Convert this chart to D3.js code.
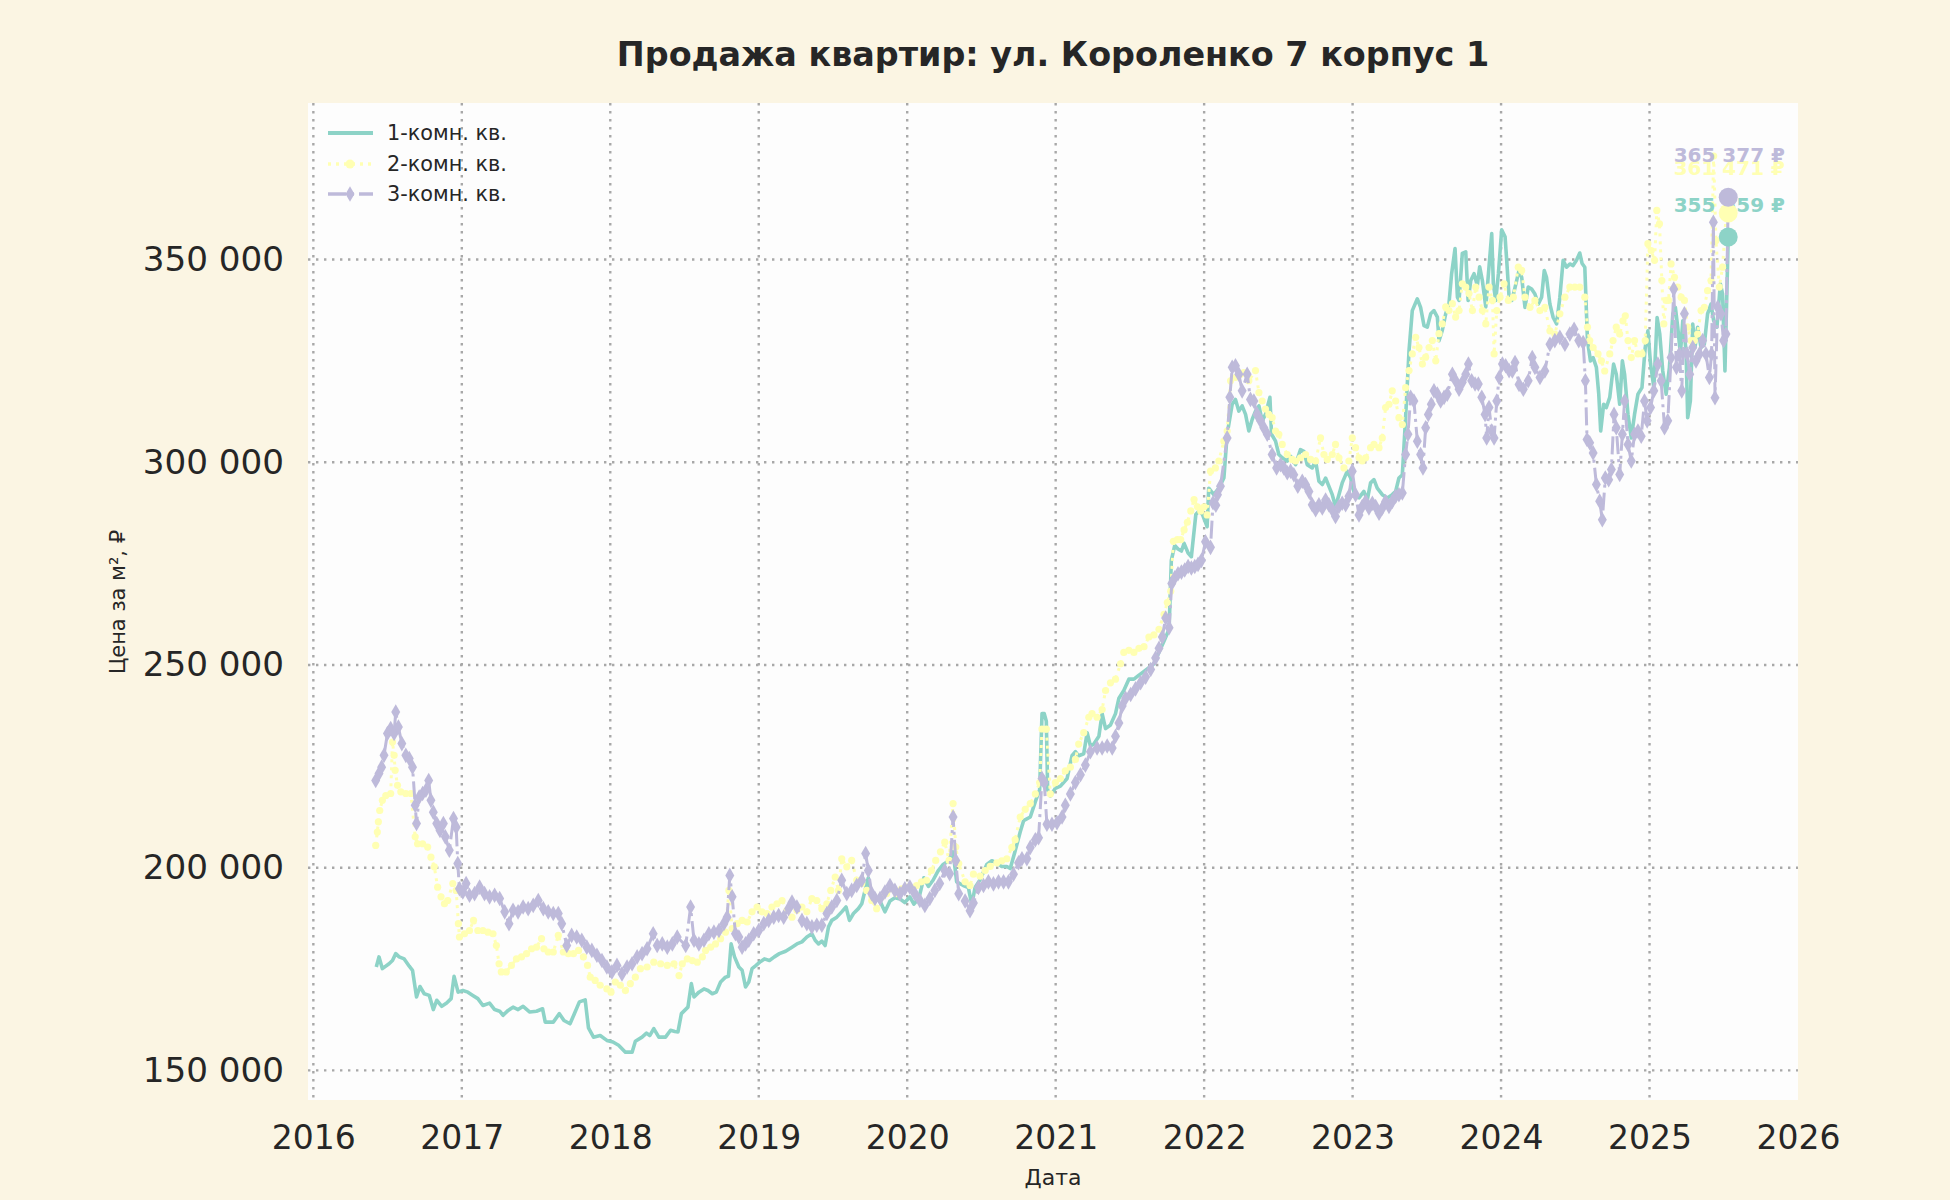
<!DOCTYPE html>
<html><head><meta charset="utf-8">
<script src="https://cdn.jsdelivr.net/npm/d3@7/dist/d3.min.js"></script>
<style>body{margin:0;background:#fbf5e3}svg{display:block}</style>
</head><body><svg id="chart" width="1950" height="1200"></svg>
<script>
const chartTitle = "Продажа квартир: ул. Короленко 7 корпус 1";
const xLabel = "Дата";
const yLabel = "Цена за м², ₽";
const seriesNames = ["1-комн. кв.", "2-комн. кв.", "3-комн. кв."];
const seriesColors = ["#8dd3c7", "#ffffb3", "#bebada"];
const xTicks = [2016, 2017, 2018, 2019, 2020, 2021, 2022, 2023, 2024, 2025, 2026];
const yTicks = [150000, 200000, 250000, 300000, 350000];

// [decimal year, price per m² in thousand ₽]
const room1 = [[2016.424,175.5],[2016.442,178.0],[2016.465,175.1],[2016.51,176.3],[2016.533,177.1],[2016.555,178.8],[2016.578,178.0],[2016.612,177.5],[2016.646,175.7],[2016.668,174.7],[2016.695,168.1],[2016.718,170.7],[2016.747,168.9],[2016.781,168.5],[2016.808,165.0],[2016.831,167.3],[2016.865,165.8],[2016.898,166.6],[2016.928,167.7],[2016.948,173.2],[2016.975,169.3],[2017.007,169.7],[2017.041,169.3],[2017.074,168.5],[2017.108,167.7],[2017.142,166.0],[2017.187,166.6],[2017.221,165.0],[2017.255,164.6],[2017.278,163.6],[2017.312,164.8],[2017.345,165.6],[2017.379,165.0],[2017.413,165.8],[2017.458,164.4],[2017.503,164.6],[2017.544,165.2],[2017.562,161.9],[2017.616,161.9],[2017.657,164.0],[2017.688,162.3],[2017.729,161.5],[2017.756,163.8],[2017.792,166.9],[2017.831,167.4],[2017.853,160.5],[2017.887,158.2],[2017.932,158.6],[2017.977,157.4],[2018.018,157.0],[2018.056,156.2],[2018.102,154.5],[2018.147,154.5],[2018.169,157.2],[2018.214,158.2],[2018.244,159.2],[2018.266,158.6],[2018.293,160.3],[2018.327,158.2],[2018.372,158.2],[2018.406,159.9],[2018.435,159.6],[2018.456,159.5],[2018.479,164.0],[2018.501,164.8],[2018.523,165.6],[2018.546,171.4],[2018.564,168.1],[2018.597,169.3],[2018.631,170.1],[2018.658,169.7],[2018.687,168.9],[2018.714,169.3],[2018.743,171.8],[2018.776,173.0],[2018.796,173.2],[2018.814,181.2],[2018.837,178.0],[2018.866,175.5],[2018.888,174.7],[2018.911,170.6],[2018.933,171.8],[2018.955,175.1],[2018.982,175.9],[2019.007,176.7],[2019.038,177.5],[2019.072,177.1],[2019.105,178.0],[2019.139,178.8],[2019.181,179.4],[2019.224,180.4],[2019.257,181.2],[2019.291,181.7],[2019.324,182.9],[2019.358,183.7],[2019.38,182.1],[2019.403,181.2],[2019.425,181.9],[2019.447,180.8],[2019.47,185.4],[2019.492,187.0],[2019.526,187.8],[2019.559,189.1],[2019.588,190.3],[2019.611,187.0],[2019.638,188.7],[2019.671,189.9],[2019.694,191.1],[2019.716,194.4],[2019.738,197.5],[2019.756,193.6],[2019.783,192.4],[2019.817,191.8],[2019.85,189.1],[2019.884,191.8],[2019.917,192.6],[2019.951,192.3],[2019.984,191.4],[2020.018,192.8],[2020.045,191.0],[2020.078,192.4],[2020.112,197.5],[2020.143,195.4],[2020.174,196.9],[2020.208,199.2],[2020.242,200.8],[2020.275,201.6],[2020.309,203.9],[2020.333,196.5],[2020.378,195.6],[2020.412,195.1],[2020.435,190.9],[2020.457,195.1],[2020.491,197.0],[2020.536,200.8],[2020.57,201.7],[2020.604,201.2],[2020.637,200.3],[2020.671,200.3],[2020.694,199.8],[2020.727,204.1],[2020.761,208.8],[2020.784,211.6],[2020.829,212.5],[2020.863,216.3],[2020.892,219.2],[2020.908,238.0],[2020.923,238.0],[2020.937,236.1],[2020.946,219.2],[2020.964,217.7],[2020.998,219.6],[2021.032,220.1],[2021.077,222.0],[2021.11,227.6],[2021.133,228.6],[2021.155,227.6],[2021.189,228.1],[2021.212,233.3],[2021.234,230.0],[2021.257,230.5],[2021.291,232.4],[2021.313,238.0],[2021.336,234.3],[2021.369,235.2],[2021.403,238.0],[2021.426,241.8],[2021.459,243.7],[2021.493,246.5],[2021.527,246.5],[2021.561,247.5],[2021.595,248.4],[2021.628,249.3],[2021.662,250.3],[2021.696,253.1],[2021.73,255.9],[2021.764,258.8],[2021.779,275.8],[2021.802,279.5],[2021.824,278.6],[2021.847,278.1],[2021.865,280.0],[2021.892,277.6],[2021.914,276.7],[2021.944,287.1],[2021.966,288.0],[2021.989,287.1],[2022.02,284.1],[2022.031,293.6],[2022.065,292.0],[2022.099,293.6],[2022.133,296.1],[2022.155,306.9],[2022.189,314.3],[2022.211,315.5],[2022.234,312.6],[2022.256,313.9],[2022.279,311.8],[2022.301,307.7],[2022.324,310.6],[2022.346,312.6],[2022.369,313.9],[2022.391,310.2],[2022.413,311.8],[2022.443,316.0],[2022.454,306.9],[2022.481,305.2],[2022.503,301.9],[2022.526,301.1],[2022.56,300.3],[2022.582,301.5],[2022.616,299.4],[2022.649,303.1],[2022.672,302.7],[2022.694,299.4],[2022.728,298.6],[2022.751,300.3],[2022.773,295.3],[2022.796,294.5],[2022.818,296.1],[2022.84,294.1],[2022.863,292.0],[2022.885,289.1],[2022.908,292.0],[2022.93,294.9],[2022.964,297.8],[2022.987,296.1],[2023.013,292.0],[2023.043,291.2],[2023.076,292.8],[2023.099,290.7],[2023.121,294.9],[2023.144,295.7],[2023.166,293.6],[2023.2,292.0],[2023.234,291.2],[2023.267,292.0],[2023.29,292.8],[2023.312,296.1],[2023.335,296.9],[2023.357,311.0],[2023.38,327.5],[2023.402,337.4],[2023.436,340.3],[2023.458,338.2],[2023.481,333.7],[2023.503,333.3],[2023.526,336.6],[2023.548,337.4],[2023.571,335.8],[2023.582,330.0],[2023.604,332.5],[2023.627,336.6],[2023.649,339.1],[2023.667,346.5],[2023.69,352.7],[2023.706,340.7],[2023.717,339.9],[2023.739,351.5],[2023.762,351.9],[2023.778,339.9],[2023.796,344.8],[2023.818,346.5],[2023.84,343.6],[2023.856,348.2],[2023.874,344.8],[2023.897,338.3],[2023.915,346.5],[2023.937,356.4],[2023.948,344.0],[2023.964,339.9],[2023.982,346.5],[2024.004,357.3],[2024.027,355.6],[2024.038,349.8],[2024.054,340.7],[2024.072,339.9],[2024.089,342.3],[2024.105,344.8],[2024.121,347.3],[2024.139,345.6],[2024.161,338.2],[2024.183,343.2],[2024.206,342.7],[2024.228,341.5],[2024.251,339.0],[2024.273,340.7],[2024.291,347.3],[2024.306,345.6],[2024.329,339.0],[2024.351,335.7],[2024.374,334.1],[2024.396,340.7],[2024.418,349.8],[2024.441,348.1],[2024.463,348.9],[2024.485,348.5],[2024.508,349.8],[2024.53,351.6],[2024.546,349.0],[2024.564,348.1],[2024.582,330.0],[2024.602,325.0],[2024.62,325.8],[2024.642,323.4],[2024.658,316.8],[2024.671,307.7],[2024.691,314.3],[2024.709,313.5],[2024.732,316.0],[2024.758,324.2],[2024.776,321.7],[2024.799,314.3],[2024.817,325.0],[2024.832,321.7],[2024.855,311.8],[2024.877,306.0],[2024.899,311.8],[2024.922,316.8],[2024.949,318.4],[2024.971,328.3],[2024.989,332.4],[2025.007,324.2],[2025.029,318.4],[2025.051,335.7],[2025.069,331.6],[2025.089,322.5],[2025.112,316.8],[2025.134,323.4],[2025.157,336.6],[2025.174,338.2],[2025.19,333.3],[2025.208,326.7],[2025.224,334.9],[2025.246,327.5],[2025.257,311.0],[2025.275,315.1],[2025.291,334.1],[2025.306,328.3],[2025.324,333.3],[2025.347,328.3],[2025.369,329.1],[2025.391,336.6],[2025.414,339.0],[2025.432,334.9],[2025.454,333.3],[2025.477,344.0],[2025.492,341.5],[2025.508,322.5],[2025.53,355.559]];

const room2 = [[2016.42,205.5],[2016.431,208.8],[2016.438,211.3],[2016.447,214.1],[2016.465,216.6],[2016.488,217.8],[2016.521,218.3],[2016.533,231.0],[2016.544,227.7],[2016.551,224.0],[2016.567,220.3],[2016.589,218.7],[2016.623,218.3],[2016.657,218.3],[2016.686,207.6],[2016.702,205.9],[2016.736,205.9],[2016.77,205.1],[2016.792,202.6],[2016.815,200.2],[2016.837,195.2],[2016.86,192.8],[2016.883,191.1],[2016.905,191.9],[2016.939,196.1],[2016.962,194.4],[2016.977,186.2],[2016.984,182.9],[2017.018,183.7],[2017.052,184.5],[2017.079,187.0],[2017.108,184.5],[2017.142,184.5],[2017.176,184.1],[2017.21,183.7],[2017.233,180.8],[2017.251,176.3],[2017.266,174.3],[2017.3,174.3],[2017.334,175.9],[2017.368,177.5],[2017.402,178.0],[2017.436,178.8],[2017.47,180.0],[2017.503,180.4],[2017.537,182.5],[2017.553,180.0],[2017.582,179.2],[2017.616,179.2],[2017.65,183.3],[2017.684,179.2],[2017.718,178.8],[2017.752,178.8],[2017.786,179.6],[2017.819,178.0],[2017.847,175.9],[2017.865,173.0],[2017.898,172.2],[2017.932,171.0],[2017.977,170.1],[2018.005,169.3],[2018.034,171.8],[2018.068,171.0],[2018.102,169.7],[2018.135,171.4],[2018.169,173.0],[2018.203,175.1],[2018.248,175.5],[2018.293,176.7],[2018.339,176.3],[2018.384,175.9],[2018.429,176.3],[2018.463,173.4],[2018.485,176.3],[2018.519,177.5],[2018.553,177.1],[2018.586,176.7],[2018.62,178.0],[2018.642,179.6],[2018.676,180.4],[2018.709,181.2],[2018.743,182.5],[2018.776,184.1],[2018.799,194.4],[2018.821,185.0],[2018.855,186.2],[2018.888,187.0],[2018.922,186.6],[2018.955,189.1],[2018.989,190.3],[2019.022,189.1],[2019.056,188.7],[2019.089,190.3],[2019.123,191.1],[2019.157,191.9],[2019.19,189.5],[2019.224,187.8],[2019.257,189.5],[2019.291,190.3],[2019.324,189.1],[2019.358,192.4],[2019.391,191.9],[2019.425,189.9],[2019.459,191.1],[2019.485,194.4],[2019.515,197.7],[2019.537,194.4],[2019.559,202.2],[2019.593,200.2],[2019.626,201.8],[2019.66,196.9],[2019.694,196.1],[2019.727,194.4],[2019.761,191.9],[2019.794,189.9],[2019.828,192.8],[2019.861,193.6],[2019.895,194.8],[2019.928,193.6],[2019.962,194.8],[2019.996,195.2],[2020.029,194.8],[2020.063,195.6],[2020.096,196.5],[2020.13,196.9],[2020.163,199.3],[2020.192,201.8],[2020.224,203.9],[2020.253,206.3],[2020.282,201.8],[2020.309,215.8],[2020.327,205.1],[2020.347,201.0],[2020.39,196.5],[2020.423,195.6],[2020.446,198.4],[2020.491,197.9],[2020.525,199.3],[2020.559,200.3],[2020.604,201.2],[2020.637,201.7],[2020.671,202.2],[2020.705,205.0],[2020.727,206.9],[2020.761,212.5],[2020.795,214.4],[2020.829,215.8],[2020.863,218.2],[2020.892,221.0],[2020.908,234.2],[2020.937,234.2],[2020.964,218.2],[2020.998,221.0],[2021.032,222.0],[2021.065,223.9],[2021.099,224.8],[2021.133,226.7],[2021.155,230.5],[2021.189,233.3],[2021.223,237.1],[2021.245,238.0],[2021.279,237.1],[2021.313,239.0],[2021.336,243.7],[2021.369,245.6],[2021.403,246.5],[2021.437,250.3],[2021.459,253.1],[2021.493,253.6],[2021.527,253.1],[2021.561,254.1],[2021.595,254.5],[2021.628,256.9],[2021.662,257.4],[2021.696,258.8],[2021.73,262.5],[2021.752,265.4],[2021.775,268.2],[2021.793,280.5],[2021.82,280.9],[2021.842,280.9],[2021.865,283.3],[2021.887,285.2],[2021.91,288.0],[2021.932,290.8],[2021.955,289.0],[2021.977,288.0],[2022.0,289.0],[2022.02,287.0],[2022.043,297.8],[2022.076,298.6],[2022.099,300.3],[2022.133,305.2],[2022.155,307.7],[2022.178,320.1],[2022.211,320.9],[2022.245,321.7],[2022.267,322.1],[2022.301,320.1],[2022.346,322.6],[2022.369,317.2],[2022.391,315.1],[2022.413,313.1],[2022.436,311.8],[2022.458,311.0],[2022.481,307.7],[2022.503,306.9],[2022.526,304.4],[2022.56,301.9],[2022.593,300.7],[2022.616,300.3],[2022.649,301.1],[2022.683,301.9],[2022.717,300.7],[2022.751,300.3],[2022.784,306.0],[2022.807,301.9],[2022.829,300.7],[2022.863,301.9],[2022.885,304.4],[2022.908,301.1],[2022.942,298.6],[2022.975,300.3],[2022.998,306.0],[2023.02,303.6],[2023.043,301.1],[2023.065,300.3],[2023.088,301.1],[2023.121,303.6],[2023.144,304.4],[2023.178,303.6],[2023.2,306.0],[2023.222,313.5],[2023.245,314.3],[2023.267,317.6],[2023.29,315.1],[2023.312,311.0],[2023.335,309.3],[2023.357,318.4],[2023.38,322.6],[2023.402,326.7],[2023.425,330.8],[2023.447,328.3],[2023.47,324.2],[2023.492,325.9],[2023.515,328.3],[2023.537,330.0],[2023.56,325.0],[2023.582,331.7],[2023.604,334.1],[2023.627,338.3],[2023.649,337.4],[2023.672,339.1],[2023.694,335.8],[2023.717,337.4],[2023.739,344.0],[2023.762,343.2],[2023.784,341.6],[2023.807,337.4],[2023.829,343.2],[2023.852,340.7],[2023.874,337.4],[2023.897,334.1],[2023.919,343.2],[2023.942,339.9],[2023.953,326.7],[2023.971,337.4],[2023.993,340.7],[2024.02,344.0],[2024.049,339.9],[2024.083,340.7],[2024.116,348.1],[2024.139,347.3],[2024.161,340.7],[2024.195,338.2],[2024.228,339.9],[2024.262,337.4],[2024.295,338.2],[2024.329,332.4],[2024.362,331.6],[2024.396,336.6],[2024.43,340.7],[2024.463,343.2],[2024.497,343.2],[2024.53,343.2],[2024.564,340.7],[2024.582,333.3],[2024.597,330.0],[2024.62,328.3],[2024.653,326.7],[2024.676,325.0],[2024.698,322.5],[2024.732,326.7],[2024.754,330.0],[2024.776,333.3],[2024.799,331.6],[2024.821,334.9],[2024.837,336.1],[2024.855,330.0],[2024.877,325.8],[2024.899,330.0],[2024.922,326.7],[2024.949,326.7],[2024.971,330.0],[2024.989,353.9],[2025.011,352.2],[2025.034,349.8],[2025.049,362.1],[2025.067,358.8],[2025.083,344.8],[2025.096,334.1],[2025.112,339.9],[2025.128,339.9],[2025.145,348.9],[2025.168,345.6],[2025.19,343.2],[2025.213,340.7],[2025.235,339.9],[2025.257,333.3],[2025.28,330.0],[2025.302,330.0],[2025.324,331.6],[2025.347,337.4],[2025.369,338.2],[2025.391,342.3],[2025.414,344.8],[2025.432,375.5],[2025.447,354.7],[2025.47,343.2],[2025.492,348.1],[2025.515,360.5],[2025.53,361.471]];

const room3 = [[2016.42,221.5],[2016.442,223.2],[2016.46,224.8],[2016.476,227.7],[2016.499,233.1],[2016.521,234.3],[2016.544,233.1],[2016.555,238.4],[2016.573,234.7],[2016.596,230.6],[2016.623,227.7],[2016.646,226.9],[2016.668,224.8],[2016.686,215.4],[2016.695,210.9],[2016.713,217.4],[2016.736,218.3],[2016.758,219.1],[2016.777,221.5],[2016.792,216.6],[2016.808,213.7],[2016.831,210.9],[2016.853,209.2],[2016.876,210.9],[2016.889,207.6],[2016.916,204.3],[2016.944,212.1],[2016.962,210.0],[2016.973,201.0],[2016.984,194.8],[2017.007,194.0],[2017.029,196.1],[2017.052,193.2],[2017.086,193.6],[2017.12,195.2],[2017.153,193.6],[2017.187,192.8],[2017.221,193.2],[2017.255,192.4],[2017.289,189.1],[2017.318,186.2],[2017.345,189.5],[2017.379,189.1],[2017.413,190.3],[2017.447,189.9],[2017.481,190.7],[2017.515,191.9],[2017.549,189.9],[2017.582,189.1],[2017.616,188.7],[2017.65,188.7],[2017.673,186.2],[2017.707,180.8],[2017.74,183.3],[2017.774,182.9],[2017.808,182.1],[2017.842,180.4],[2017.876,179.6],[2017.91,178.4],[2017.944,177.1],[2017.977,175.5],[2018.011,174.3],[2018.045,175.9],[2018.079,173.8],[2018.113,175.5],[2018.147,176.3],[2018.181,178.0],[2018.214,178.8],[2018.248,180.0],[2018.289,183.7],[2018.316,180.8],[2018.35,181.2],[2018.384,180.4],[2018.418,181.2],[2018.451,182.9],[2018.508,180.8],[2018.541,190.3],[2018.564,182.1],[2018.597,181.2],[2018.631,182.1],[2018.664,183.7],[2018.698,184.1],[2018.732,184.5],[2018.765,186.2],[2018.787,187.8],[2018.805,198.1],[2018.821,192.8],[2018.843,183.7],[2018.866,182.9],[2018.888,180.4],[2018.911,181.2],[2018.933,182.1],[2018.966,183.7],[2019.0,184.5],[2019.034,186.2],[2019.067,187.0],[2019.101,187.8],[2019.134,188.2],[2019.168,187.8],[2019.201,189.9],[2019.224,191.5],[2019.257,190.3],[2019.291,187.0],[2019.324,186.2],[2019.358,185.4],[2019.391,185.8],[2019.425,185.8],[2019.459,188.7],[2019.492,190.3],[2019.526,191.9],[2019.559,196.9],[2019.593,193.6],[2019.626,194.4],[2019.66,195.6],[2019.694,196.9],[2019.72,203.5],[2019.738,199.3],[2019.761,193.6],[2019.783,192.4],[2019.817,192.4],[2019.85,194.0],[2019.884,195.6],[2019.917,194.4],[2019.951,193.6],[2019.984,194.8],[2020.018,195.2],[2020.051,193.6],[2020.085,191.9],[2020.119,190.7],[2020.152,192.4],[2020.186,194.4],[2020.219,196.1],[2020.253,199.3],[2020.286,198.5],[2020.309,212.5],[2020.327,201.8],[2020.347,193.6],[2020.39,191.8],[2020.423,189.4],[2020.446,191.3],[2020.48,195.1],[2020.514,195.6],[2020.547,196.5],[2020.581,196.0],[2020.615,196.5],[2020.649,196.5],[2020.682,196.5],[2020.716,198.4],[2020.75,201.2],[2020.773,202.2],[2020.806,202.2],[2020.829,205.0],[2020.863,206.9],[2020.885,207.4],[2020.908,222.0],[2020.923,221.0],[2020.941,210.7],[2020.975,210.7],[2021.009,211.1],[2021.043,212.5],[2021.065,215.4],[2021.099,218.2],[2021.133,221.0],[2021.167,222.9],[2021.2,225.3],[2021.234,228.6],[2021.279,229.5],[2021.313,229.5],[2021.347,230.0],[2021.381,229.5],[2021.403,232.4],[2021.426,235.7],[2021.448,239.9],[2021.471,241.8],[2021.505,242.7],[2021.538,244.1],[2021.572,245.6],[2021.606,247.0],[2021.64,248.9],[2021.673,251.7],[2021.696,254.1],[2021.718,256.9],[2021.741,261.6],[2021.764,259.2],[2021.782,270.1],[2021.802,271.5],[2021.824,272.5],[2021.847,272.9],[2021.869,273.4],[2021.892,274.3],[2021.914,273.9],[2021.937,274.3],[2021.959,274.8],[2021.982,275.8],[2022.009,280.4],[2022.043,279.0],[2022.06,290.0],[2022.079,289.4],[2022.09,292.0],[2022.11,294.1],[2022.155,306.0],[2022.173,316.0],[2022.189,323.4],[2022.211,323.8],[2022.234,321.7],[2022.256,317.6],[2022.29,321.7],[2022.312,315.5],[2022.335,315.1],[2022.357,311.8],[2022.38,310.2],[2022.402,308.5],[2022.425,306.9],[2022.458,301.9],[2022.488,298.6],[2022.515,299.4],[2022.537,298.6],[2022.56,297.4],[2022.582,297.8],[2022.604,296.9],[2022.631,294.1],[2022.661,295.3],[2022.683,294.5],[2022.706,292.8],[2022.728,289.5],[2022.751,288.3],[2022.773,289.5],[2022.796,288.7],[2022.818,290.7],[2022.84,289.5],[2022.863,288.3],[2022.885,286.6],[2022.908,289.1],[2022.93,289.9],[2022.953,289.5],[2022.975,291.6],[2022.998,297.8],[2023.02,292.0],[2023.043,287.0],[2023.065,289.1],[2023.088,290.3],[2023.11,288.7],[2023.133,289.9],[2023.155,289.1],[2023.178,287.4],[2023.2,288.7],[2023.222,290.3],[2023.245,289.1],[2023.267,290.3],[2023.29,291.6],[2023.312,292.0],[2023.335,292.4],[2023.357,301.9],[2023.373,306.9],[2023.391,316.0],[2023.413,315.1],[2023.436,305.2],[2023.458,301.9],[2023.474,298.6],[2023.492,308.5],[2023.51,311.8],[2023.53,314.3],[2023.548,317.6],[2023.571,316.8],[2023.593,315.1],[2023.616,316.0],[2023.638,316.8],[2023.672,321.7],[2023.694,320.1],[2023.717,318.0],[2023.739,319.7],[2023.762,321.7],[2023.78,324.2],[2023.802,320.1],[2023.825,319.3],[2023.847,319.3],[2023.87,316.0],[2023.892,311.8],[2023.903,306.0],[2023.919,313.5],[2023.937,307.7],[2023.953,306.0],[2023.971,315.1],[2023.987,320.9],[2024.009,324.2],[2024.031,323.8],[2024.054,322.6],[2024.076,322.5],[2024.094,324.6],[2024.121,319.2],[2024.15,318.0],[2024.183,320.1],[2024.21,325.8],[2024.228,323.4],[2024.262,320.9],[2024.295,322.5],[2024.329,329.1],[2024.362,330.0],[2024.396,330.8],[2024.43,329.1],[2024.463,331.6],[2024.492,332.8],[2024.523,330.0],[2024.553,329.5],[2024.568,320.1],[2024.579,305.6],[2024.597,304.8],[2024.62,302.3],[2024.642,294.5],[2024.664,290.4],[2024.682,285.8],[2024.702,296.1],[2024.725,295.7],[2024.743,298.2],[2024.761,311.8],[2024.776,308.5],[2024.799,297.0],[2024.817,306.9],[2024.832,315.1],[2024.855,304.4],[2024.877,300.3],[2024.899,306.9],[2024.922,307.7],[2024.944,306.4],[2024.966,315.1],[2024.984,310.2],[2025.007,313.5],[2025.029,317.6],[2025.056,324.2],[2025.078,320.1],[2025.101,308.5],[2025.123,310.2],[2025.145,325.8],[2025.163,342.7],[2025.181,323.4],[2025.201,326.7],[2025.217,317.6],[2025.235,336.6],[2025.253,326.7],[2025.271,321.7],[2025.291,328.3],[2025.313,325.0],[2025.336,326.7],[2025.358,330.0],[2025.38,326.7],[2025.403,320.9],[2025.418,326.7],[2025.43,359.2],[2025.441,315.9],[2025.459,338.2],[2025.481,336.6],[2025.499,330.0],[2025.515,331.6],[2025.53,365.377]];

const allSeries = [room1, room2, room3];

const W = 1950, H = 1200;
const M = {left: 308, right: 1798, top: 103, bottom: 1100};
const svg = d3.select("#chart");
const font = "'DejaVu Sans', 'Liberation Sans', sans-serif";
const textColor = "#262626";

svg.append("rect").attr("width", W).attr("height", H).attr("fill", "#fbf5e3");
svg.append("rect").attr("x", M.left).attr("y", M.top)
  .attr("width", M.right - M.left).attr("height", M.bottom - M.top).attr("fill", "#fdfdfd");

const x = d3.scaleLinear().domain([2015.964, 2026.0]).range([M.left, M.right]);
const y = d3.scaleLinear().domain([142700, 388600]).range([M.bottom, M.top]);

// grid
const grid = svg.append("g");
grid.selectAll(".gx").data(xTicks.filter(t => x(t) < M.right - 2)).join("line")
  .attr("x1", d => x(d)).attr("x2", d => x(d)).attr("y1", M.top).attr("y2", M.bottom)
  .attr("stroke", "#a8a8a8").attr("stroke-width", 2.4).attr("stroke-dasharray", "2.4 5.6");
grid.selectAll(".gy").data(yTicks).join("line")
  .attr("x1", M.left).attr("x2", M.right).attr("y1", d => y(d)).attr("y2", d => y(d))
  .attr("stroke", "#a8a8a8").attr("stroke-width", 2.4).attr("stroke-dasharray", "2.4 5.6");

// axes (labels only)
const fmt = v => d3.format(",")(v).replace(/,/g, " ");
const xAxis = d3.axisBottom(x).tickValues(xTicks).tickFormat(d3.format("d")).tickSize(0).tickPadding(26);
const gx = svg.append("g").attr("transform", `translate(0,${M.bottom})`).call(xAxis);
gx.select(".domain").remove();
gx.selectAll("text").attr("font-family", font).attr("font-size", 33).attr("fill", textColor);

const yAxis = d3.axisLeft(y).tickValues(yTicks).tickFormat(fmt).tickSize(0).tickPadding(24);
const gy = svg.append("g").attr("transform", `translate(${M.left},0)`).call(yAxis);
gy.select(".domain").remove();
gy.selectAll("text").attr("font-family", font).attr("font-size", 34.2).attr("fill", textColor);

// title & labels
svg.append("text").attr("x", 1053).attr("y", 54).attr("text-anchor", "middle")
  .attr("dominant-baseline", "central").attr("font-family", font).attr("font-size", 33.4)
  .attr("font-weight", "bold").attr("fill", textColor).text(chartTitle);
svg.append("text").attr("x", 1053).attr("y", 1177).attr("text-anchor", "middle")
  .attr("dominant-baseline", "central").attr("font-family", font).attr("font-size", 22)
  .attr("fill", textColor).text(xLabel);
svg.append("text").attr("transform", "translate(118,602) rotate(-90)").attr("text-anchor", "middle")
  .attr("dominant-baseline", "central").attr("font-family", font).attr("font-size", 21)
  .attr("fill", textColor).text(yLabel);

const line = d3.line().x(d => x(d[0])).y(d => y(d[1] * 1000));
const clip = svg.append("clipPath").attr("id", "clip").append("rect")
  .attr("x", M.left).attr("y", M.top).attr("width", M.right - M.left).attr("height", M.bottom - M.top);
const plot = svg.append("g").attr("clip-path", "url(#clip)");

const styles = [
  {w: 3.6, dash: null},
  {w: 3.0, dash: "3 5"},
  {w: 3.0, dash: "18 5 3 5"}
];
const diamond = d3.symbol().type(d3.symbolDiamond).size(70);

allSeries.forEach((data, i) => {
  const g = plot.append("g");
  g.append("path").datum(data).attr("d", line).attr("fill", "none")
    .attr("stroke", seriesColors[i]).attr("stroke-width", styles[i].w)
    .attr("stroke-linejoin", "round")
    .attr("stroke-dasharray", styles[i].dash);
  if (i === 1) {
    g.selectAll("circle").data(data).join("circle")
      .attr("cx", d => x(d[0])).attr("cy", d => y(d[1] * 1000)).attr("r", 3.6)
      .attr("fill", seriesColors[i]);
  } else if (i === 2) {
    g.selectAll("path.m").data(data).join("path").attr("class", "m")
      .attr("transform", d => `translate(${x(d[0])},${y(d[1] * 1000)})`)
      .attr("d", diamond).attr("fill", seriesColors[i]);
  }
});

// end labels and dots
const labelOffsets = [-32, -45, -42];
const labelG = svg.append("g");
allSeries.forEach((data, i) => {
  const last = data[data.length - 1];
  labelG.append("text").attr("x", 1785).attr("y", y(last[1] * 1000) + labelOffsets[i])
    .attr("text-anchor", "end").attr("dominant-baseline", "central")
    .attr("font-family", font).attr("font-size", 20).attr("font-weight", "bold")
    .attr("fill", seriesColors[i]).text(fmt(Math.round(last[1] * 1000)) + " ₽");
});
[1, 2, 0].forEach(i => {
  const last = allSeries[i][allSeries[i].length - 1];
  labelG.append("circle").attr("cx", x(last[0])).attr("cy", y(last[1] * 1000)).attr("r", 9.5)
    .attr("fill", seriesColors[i]);
});

// legend
const lg = svg.append("g");
const rows = [133, 164, 194];
seriesNames.forEach((name, i) => {
  const ly = rows[i];
  lg.append("line").attr("x1", 328).attr("x2", 373).attr("y1", ly).attr("y2", ly)
    .attr("stroke", seriesColors[i]).attr("stroke-width", styles[i].w + 0.6)
    .attr("stroke-dasharray", i === 0 ? null : (i === 1 ? "3 5" : "18 5 3 5"));
  if (i === 1) lg.append("circle").attr("cx", 350).attr("cy", ly).attr("r", 4.5).attr("fill", seriesColors[i]);
  if (i === 2) lg.append("path").attr("transform", `translate(350,${ly})`).attr("d", diamond).attr("fill", seriesColors[i]);
  lg.append("text").attr("x", 387).attr("y", ly).attr("dominant-baseline", "central")
    .attr("font-family", font).attr("font-size", 20.8).attr("fill", textColor).text(name);
});
</script>
</body></html>
